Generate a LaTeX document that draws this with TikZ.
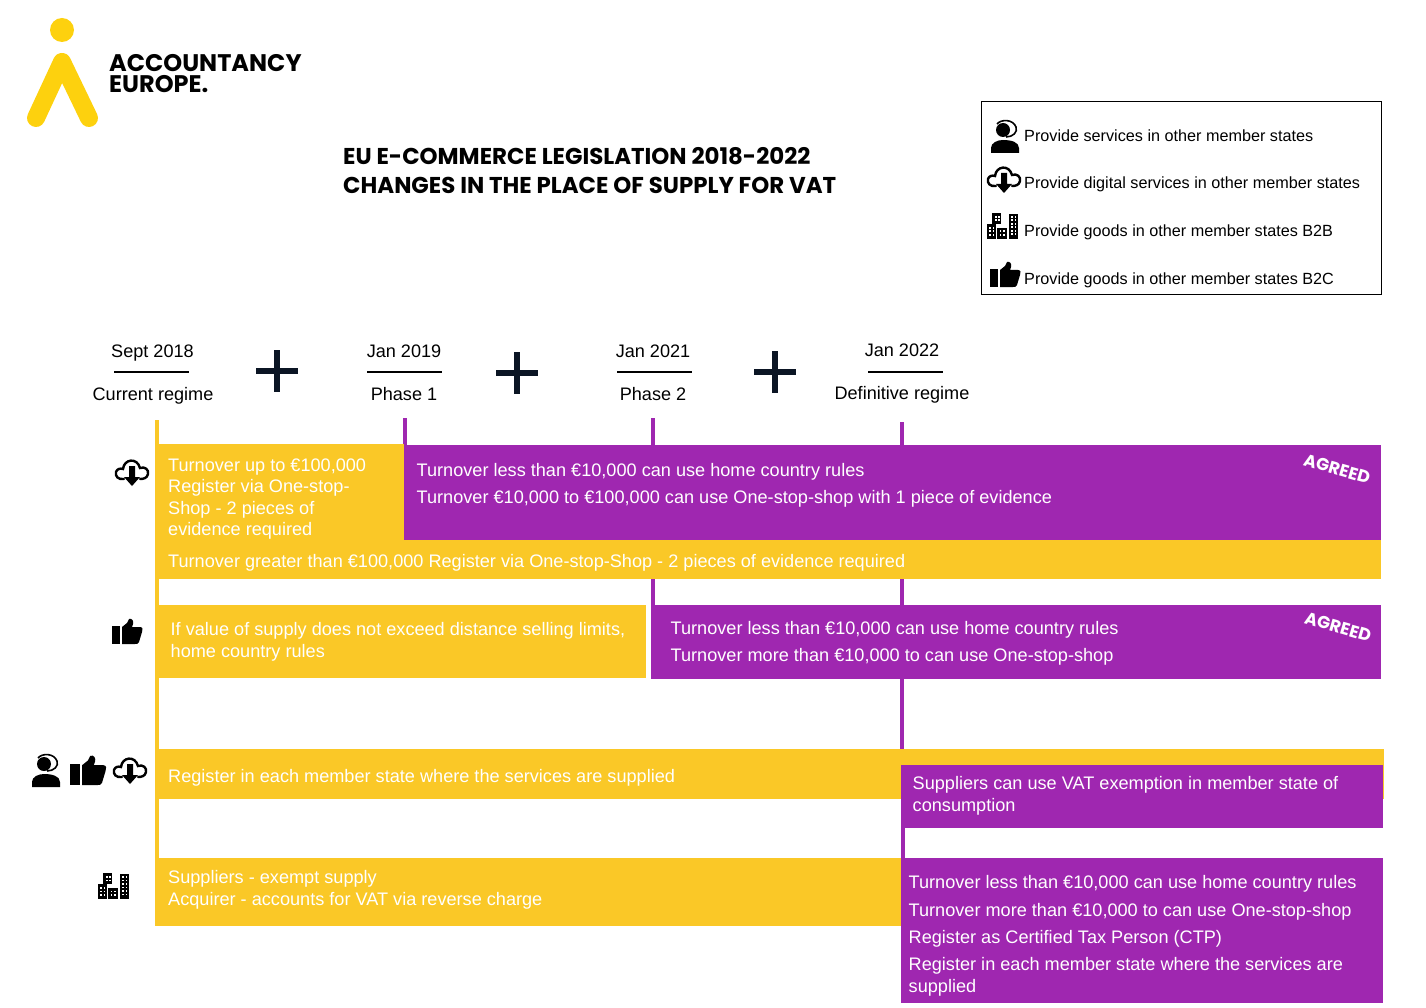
\documentclass[tikz,border=0pt]{standalone}
\usepackage{fontspec}
\setmainfont{Liberation Sans}
\newfontfamily\headfont{Poppins}
\definecolor{euyellow}{HTML}{FAC827}
\definecolor{logoyellow}{HTML}{FDD10E}
\definecolor{eupurple}{HTML}{9F27B0}
\definecolor{plusnavy}{HTML}{0B1524}
\tikzset{
	yellowbox/.style={fill=euyellow,anchor=north west,inner sep=0pt,outer sep=0pt},
	purplebox/.style={fill=eupurple,anchor=north west,inner sep=0pt,outer sep=0pt},
	boxtext/.style={text=white,anchor=west,align=left,inner sep=0pt,font=\fontsize{18.13}{21.6}\selectfont},
	datetext/.style={text=black,inner sep=0pt,text height=13pt,text depth=4pt,font=\fontsize{18.1}{21}\selectfont},
	legendtext/.style={text=black,anchor=west,inner sep=0pt,font=\fontsize{16.2}{20}\selectfont},
	titletext/.style={text=black,anchor=west,inner sep=0pt,font=\headfont\bfseries\fontsize{22.9}{26}\selectfont},
	agreedtext/.style={text=white,inner sep=0pt,rotate=-16,font=\headfont\bfseries\fontsize{17.2}{20}\selectfont},
	purplestem/.style={draw=eupurple,line width=4pt},
	daterule/.style={draw=black,line width=1.2pt},
	pics/plussign/.style={code={
		\draw[plusnavy,line width=5.5pt] (-21,0) -- (21,0);
		\draw[plusnavy,line width=5.5pt] (0,-21) -- (0,21);
	}},
	pics/agenticon/.style={code={
		\fill[black] (-14,16) -- (-14,11) .. controls (-14,6) and (-8,3) .. (-2,3) .. controls (6,3) and (14,5) .. (14,11) -- (14,16) -- cycle;
		\fill[black] (-2,-7) circle (7);
		\draw[black,line width=1.6pt] (-8,-13) .. controls (-4,-18) and (8,-18) .. (11,-10) .. controls (13,-5) and (8,0) .. (1,0);
	}},
	pics/cloudicon/.style={code={
		\draw[black,line width=2.4pt,line cap=round] (-8,6) .. controls (-14,7) and (-17,3) .. (-16,-1) .. controls (-15,-4) and (-12,-5) .. (-9,-4) .. controls (-8,-14) and (5,-16) .. (8,-5) .. controls (13,-7) and (17,-3) .. (16,1) .. controls (15,5) and (12,6) .. (8,6);
		\fill[black] (-3,-7) -- (3,-7) -- (3,4) -- (8,4) -- (0,13) -- (-8,4) -- (-3,4) -- cycle;
	}},
	pics/thumbicon/.style={code={
		\fill[black] (-15,-6) rectangle (-7,12);
		\fill[black] (-5,-5) -- (0,-9) -- (2,-13) .. controls (5,-14) and (7,-11) .. (6,-8) -- (5,-5) -- (13,-5) .. controls (16,-5) and (16,-2) .. (15,0) -- (12,10) .. controls (11,12) and (10,12) .. (8,12) -- (-5,12) -- cycle;
	}},
	pics/buildingicon/.style={code={
		\fill[black] (-16,-3) rectangle (-7,12);
		\fill[black] (-11,-14) rectangle (-2,-3);
		\fill[black] (-6,1) rectangle (4,12);
		\fill[black] (6,-13) rectangle (15,12);
		\foreach \wx in {-14,-10.5}
			\foreach \wy in {0,3.5,7}
				\fill[white] (\wx,\wy) rectangle +(1.7,1.7);
		\foreach \wx in {-8,-5}
			\foreach \wy in {-11,-7.5}
				\fill[white] (\wx,\wy) rectangle +(1.7,1.7);
		\foreach \wx in {-3.5,0}
			\foreach \wy in {3.5,7}
				\fill[white] (\wx,\wy) rectangle +(1.7,1.7);
		\foreach \wx in {8,11.5}
			\foreach \wy in {-11,-7.5,-4,-0.5,3,6.5}
				\fill[white] (\wx,\wy) rectangle +(1.7,1.7);
	}}
}
\begin{document}
\begin{tikzpicture}[x=1pt,y=-1pt]
		\useasboundingbox (0,0) rectangle (1426,1008);

		\fill[logoyellow] (62,30) circle (12);
		\draw[logoyellow,line width=18pt,line cap=round,line join=round] (36,118) -- (62,62) -- (89,118);
		\node[anchor=west,inner sep=0pt,font=\headfont\bfseries\fontsize{24}{25}\selectfont] (logo1) at (109,63) {ACCOUNTANCY};
		\node[anchor=west,inner sep=0pt,font=\headfont\bfseries\fontsize{24}{25}\selectfont] (logo2) at (109,84) {EUROPE.};

		\node[titletext] (title1) at (343,156) {EU E-COMMERCE LEGISLATION 2018-2022};
		\node[titletext] (title2) at (343,185) {CHANGES IN THE PLACE OF SUPPLY FOR VAT};

		\node[draw=black,line width=1pt,anchor=north west,inner sep=0pt,minimum width=400pt,minimum height=193pt] (legend) at (981,101) {};
		\pic at (1005,137) {agenticon};
		\pic at (1004,180) {cloudicon};
		\pic at (1003,227) {buildingicon};
		\pic at (1005,275) {thumbicon};
		\node[legendtext] (leg1) at (1024,136) {Provide services in other member states};
		\node[legendtext] (leg2) at (1024,184) {Provide digital services in other member states};
		\node[legendtext] (leg3) at (1024,232) {Provide goods in other member states B2B};
		\node[legendtext] (leg4) at (1024,280) {Provide goods in other member states B2C};

		\node[datetext] (d1) at (152.5,353) {Sept 2018};
		\node[datetext] (r1) at (153,396) {Current regime};
		\node[datetext] (d2) at (404,353) {Jan 2019};
		\node[datetext] (r2) at (404,396) {Phase 1};
		\node[datetext] (d3) at (653,353) {Jan 2021};
		\node[datetext] (r3) at (653,396) {Phase 2};
		\node[datetext] (d4) at (902,352) {Jan 2022};
		\node[datetext] (r4) at (902,395) {Definitive regime};
		\draw[daterule] (114,372) -- (189,372);
		\draw[daterule] (367,372) -- (442,372);
		\draw[daterule] (617,372) -- (692,372);
		\draw[daterule] (868,372) -- (943,372);
		\pic at (277,371) {plussign};
		\pic at (517,373) {plussign};
		\pic at (775,372) {plussign};

		\fill[euyellow] (155,420) rectangle (159,926);
		\draw[purplestem] (405,418) -- (405,446);
		\draw[purplestem] (652.5,418) -- (652.5,446);
		\draw[purplestem] (901.5,422) -- (901.5,446);
		\draw[purplestem] (653,578) -- (653,606);
		\draw[purplestem] (902,578) -- (902,606);
		\draw[purplestem] (902,678) -- (902,750);
		\draw[purplestem] (903,827) -- (903,859);

		\node[yellowbox,minimum width=249pt,minimum height=96pt] (y1) at (155,444) {};
		\node[yellowbox,minimum width=1226pt,minimum height=39pt] (y2) at (155,540) {};
		\node[yellowbox,minimum width=487pt,minimum height=73pt] (y3) at (159,605) {};
		\node[yellowbox,minimum width=1229pt,minimum height=50pt] (y4) at (155,749) {};
		\node[yellowbox,minimum width=746pt,minimum height=68pt] (y5) at (155,858) {};
		\node[purplebox,minimum width=977pt,minimum height=95pt] (p1) at (404,445) {};
		\node[purplebox,minimum width=730pt,minimum height=74pt] (p2) at (651,605) {};
		\node[purplebox,minimum width=482pt,minimum height=63pt] (p3) at (901,765) {};
		\node[purplebox,minimum width=482pt,minimum height=145pt] (p4) at (901,858) {};

		\node[boxtext] (ty1) at (168,499) {Turnover up to €100,000\\Register via One-stop-\\Shop - 2 pieces of\\evidence required};
		\node[boxtext] (ty2) at (168,563) {Turnover greater than €100,000 Register via One-stop-Shop - 2 pieces of evidence required};
		\node[boxtext] (ty3) at (170.5,642) {If value of supply does not exceed distance selling limits,\\home country rules};
		\node[boxtext] (ty4) at (168,778) {Register in each member state where the services are supplied};
		\node[boxtext] (ty5) at (168,890) {Suppliers - exempt supply\\Acquirer - accounts for VAT via reverse charge};
		\node[boxtext] (tp1) at (416.5,485) {Turnover less than €10,000 can use home country rules\\[5.4pt]Turnover €10,000 to €100,000 can use One-stop-shop with 1 piece of evidence};
		\node[boxtext] (tp2) at (670.5,643) {Turnover less than €10,000 can use home country rules\\[5.4pt]Turnover more than €10,000 to can use One-stop-shop};
		\node[boxtext] (tp3) at (912.5,796) {Suppliers can use VAT exemption in member state of\\consumption};
		\node[boxtext] (tp4) at (908.5,936) {Turnover less than €10,000 can use home country rules\\[5.8pt]Turnover more than €10,000 to can use One-stop-shop\\[5.8pt]Register as Certified Tax Person (CTP)\\[5.8pt]Register in each member state where the services are\\supplied};

		\node[agreedtext] (ag1) at (1337,469) {AGREED};
		\node[agreedtext] (ag2) at (1338,627) {AGREED};

		\pic at (132,473) {cloudicon};
		\pic at (127,632) {thumbicon};
		\pic at (46,771) {agenticon};
		\pic[scale=1.17] at (88,771) {thumbicon};
		\pic at (130,771) {cloudicon};
		\pic at (114,887) {buildingicon};
\end{tikzpicture}
\end{document}
